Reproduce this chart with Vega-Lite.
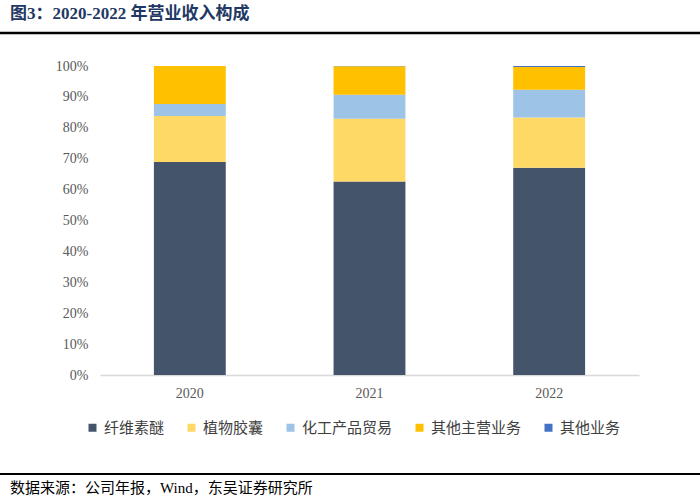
{
  "$schema": "https://vega.github.io/schema/vega-lite/v6.json",
  "width": 539,
  "height": 309,
  "autosize": "none",
  "padding": {"left": 100, "top": 66, "right": 61, "bottom": 125},
  "background": "white",
  "config": {"view": {"stroke": null}},
  "title": {
    "text": "图3：2020-2022 年营业收入构成",
    "anchor": "start",
    "frame": "group",
    "dx": -90,
    "offset": 9,
    "font": "Liberation Serif, Noto Sans CJK SC",
    "fontSize": 17,
    "fontWeight": "bold",
    "color": "#1F3864"
  },
  "datasets": {
    "rev": [
      {"year": "2020", "cat": "纤维素醚", "idx": 1, "v": 68.9},
      {"year": "2020", "cat": "植物胶囊", "idx": 2, "v": 14.9},
      {"year": "2020", "cat": "化工产品贸易", "idx": 3, "v": 3.9},
      {"year": "2020", "cat": "其他主营业务", "idx": 4, "v": 12.3},
      {"year": "2020", "cat": "其他业务", "idx": 5, "v": 0.0},
      {"year": "2021", "cat": "纤维素醚", "idx": 1, "v": 62.6},
      {"year": "2021", "cat": "植物胶囊", "idx": 2, "v": 20.3},
      {"year": "2021", "cat": "化工产品贸易", "idx": 3, "v": 7.8},
      {"year": "2021", "cat": "其他主营业务", "idx": 4, "v": 9.2},
      {"year": "2021", "cat": "其他业务", "idx": 5, "v": 0.1},
      {"year": "2022", "cat": "纤维素醚", "idx": 1, "v": 67.1},
      {"year": "2022", "cat": "植物胶囊", "idx": 2, "v": 16.2},
      {"year": "2022", "cat": "化工产品贸易", "idx": 3, "v": 9.0},
      {"year": "2022", "cat": "其他主营业务", "idx": 4, "v": 7.4},
      {"year": "2022", "cat": "其他业务", "idx": 5, "v": 0.3}
    ]
  },
  "layer": [
    {
      "data": {"name": "rev"},
      "mark": {"type": "bar"},
      "encoding": {
        "x": {
          "field": "year",
          "type": "nominal",
          "scale": {"paddingInner": 0.6, "paddingOuter": 0.3},
          "axis": {
            "title": null,
            "labelAngle": 0,
            "ticks": false,
            "domainColor": "#D9D9D9",
            "domainWidth": 1.5,
            "labelFont": "Liberation Serif",
            "labelFontSize": 14,
            "labelColor": "#595959",
            "labelPadding": 11
          }
        },
        "y": {
          "field": "v",
          "type": "quantitative",
          "stack": "normalize",
          "scale": {"domain": [0, 1]},
          "axis": {
            "title": null,
            "values": [0, 0.1, 0.2, 0.3, 0.4, 0.5, 0.6, 0.7, 0.8, 0.9, 1],
            "format": ".0%",
            "grid": false,
            "domain": false,
            "ticks": false,
            "labelFont": "Liberation Serif",
            "labelFontSize": 14,
            "labelColor": "#595959",
            "labelPadding": 12
          }
        },
        "color": {
          "field": "cat",
          "type": "nominal",
          "scale": {
            "domain": ["纤维素醚", "植物胶囊", "化工产品贸易", "其他主营业务", "其他业务"],
            "range": ["#44546A", "#FFD966", "#9DC3E6", "#FFC000", "#4472C4"]
          },
          "legend": {
            "title": null,
            "orient": "none",
            "direction": "horizontal",
            "legendX": -15,
            "legendY": 354,
            "symbolType": "square",
            "symbolSize": 64,
            "symbolStrokeWidth": 0,
            "labelFont": "Noto Sans CJK SC",
            "labelFontSize": 15,
            "labelColor": "#404040",
            "labelOffset": 4,
            "columnPadding": 19
          }
        },
        "order": {"field": "idx", "type": "quantitative"}
      }
    },
    {
      "data": {"values": [{}]},
      "mark": {"type": "rule", "color": "#000000", "strokeWidth": 2.5},
      "encoding": {"x": {"value": -100}, "x2": {"value": 600}, "y": {"value": -33}}
    },
    {
      "data": {"values": [{}]},
      "mark": {"type": "rule", "color": "#000000", "strokeWidth": 2},
      "encoding": {"x": {"value": -100}, "x2": {"value": 600}, "y": {"value": 408}}
    },
    {
      "data": {"values": [{}]},
      "mark": {
        "type": "text",
        "text": "数据来源：公司年报，Wind，东吴证券研究所",
        "align": "left",
        "baseline": "middle",
        "font": "Liberation Serif, Noto Sans CJK SC",
        "fontSize": 15,
        "color": "#000000"
      },
      "encoding": {"x": {"value": -90}, "y": {"value": 422}}
    }
  ]
}
